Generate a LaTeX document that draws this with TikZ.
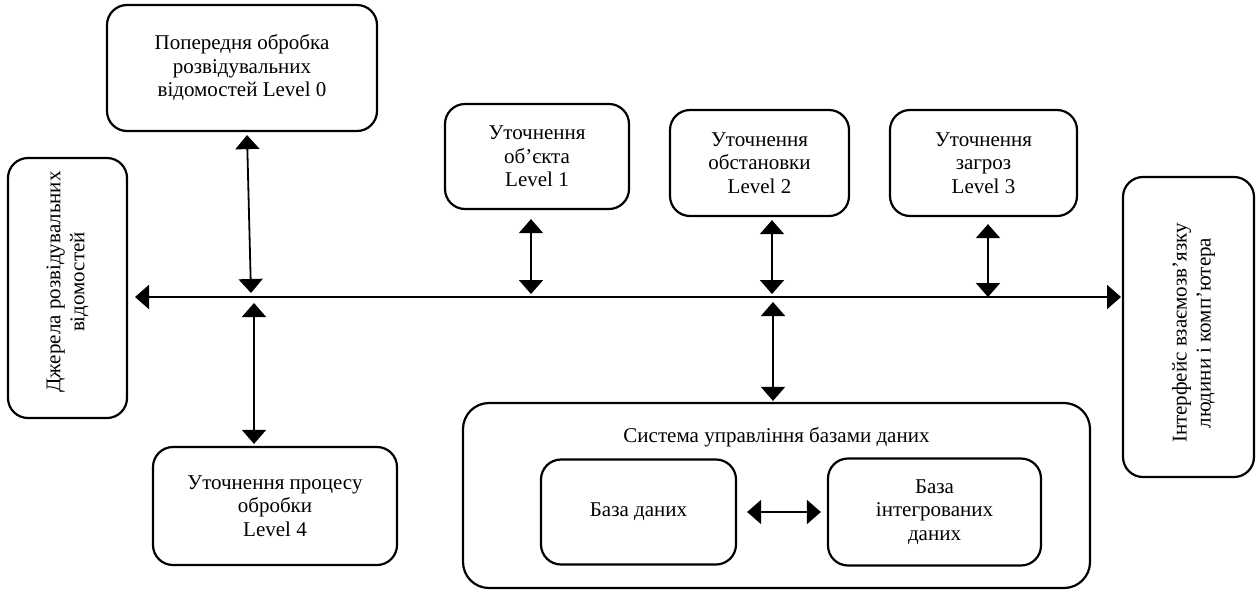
\documentclass[tikz,border=0pt]{standalone}
\usepackage{fontspec}
\setmainfont{Liberation Serif}
\usetikzlibrary{arrows.meta}
\begin{document}
\begin{tikzpicture}[x=1pt,y=-1pt,
  box/.style={draw=black,line width=2.2pt,rounded corners=20pt,align=center,
    inner sep=0pt,font=\fontsize{21}{23.5}\selectfont},
  biarrow/.style={line width=1.8pt,{Triangle[width=24pt,length=14pt]}-{Triangle[width=24pt,length=14pt]}},
  lbl/.style={font=\fontsize{21}{24}\selectfont,align=center,inner sep=0pt}]
\useasboundingbox (0,0) rectangle (1257,590);
\node[box,minimum width=270pt,minimum height=126pt] (L0) at (242,68) {Попередня обробка\\розвідувальних\\відомостей Level 0};
\node[box,minimum width=119pt,minimum height=260pt] (src) at (67.5,288) {};
\node[lbl,rotate=90] at ([yshift=6pt]src.center) {Джерела розвідувальних\\відомостей};
\node[box,minimum width=184pt,minimum height=105pt] (L1) at (537,156.5) {Уточнення\\об’єкта\\Level 1};
\node[box,minimum width=179pt,minimum height=106pt] (L2) at (759.5,163) {Уточнення\\обстановки\\Level 2};
\node[box,minimum width=187pt,minimum height=106pt] (L3) at (983.5,163) {Уточнення\\загроз\\Level 3};
\node[box,minimum width=131pt,minimum height=300pt] (hmi) at (1188.5,327) {};
\node[lbl,rotate=90] at ([xshift=5pt,yshift=-6pt]hmi.center) {Інтерфейс взаємозв’язку\\людини і комп’ютера};
\node[box,minimum width=244pt,minimum height=118pt] (L4) at (275,506) {Уточнення процесу\\обробки\\Level 4};
\node[box,rounded corners=26pt,minimum width=627pt,minimum height=185pt] (dbms) at (776.5,495.5) {};
\node[lbl] (dbmst) at (776.5,437) {Система управління базами даних};
\node[box,minimum width=195pt,minimum height=105pt] (db) at (638.5,512) {База даних};
\node[box,minimum width=213pt,minimum height=107pt] (idb) at (934.5,512) {База\\інтегрованих\\даних};
% bus
\coordinate (busL) at (135,297);
\coordinate (busR) at (1121,297);
\draw[biarrow] (busL) -- (busR);
% vertical connectors
\coordinate (b0) at (251,293);
\coordinate (b4) at (254,303);
\coordinate (b1) at (531,294);
\coordinate (b2) at (772,294);
\coordinate (b3) at (988,297);
\coordinate (bd) at (773,302);
\draw[biarrow] ([xshift=5pt,yshift=-3pt]L0.south) -- (b0);
\draw[biarrow] (b4) -- ([xshift=-21pt,yshift=2pt]L4.north);
\draw[biarrow] ([xshift=-6pt,yshift=-9pt]L1.south) -- (b1);
\draw[biarrow] ([xshift=12.5pt,yshift=-3pt]L2.south) -- (b2);
\draw[biarrow] ([xshift=4.5pt,yshift=-7pt]L3.south) -- (b3);
\draw[biarrow] (bd) -- ([xshift=-3.5pt,yshift=1pt]dbms.north);
\draw[biarrow] ([xshift=10pt]db.east) -- ([xshift=-6pt]idb.west);
\end{tikzpicture}
\end{document}
